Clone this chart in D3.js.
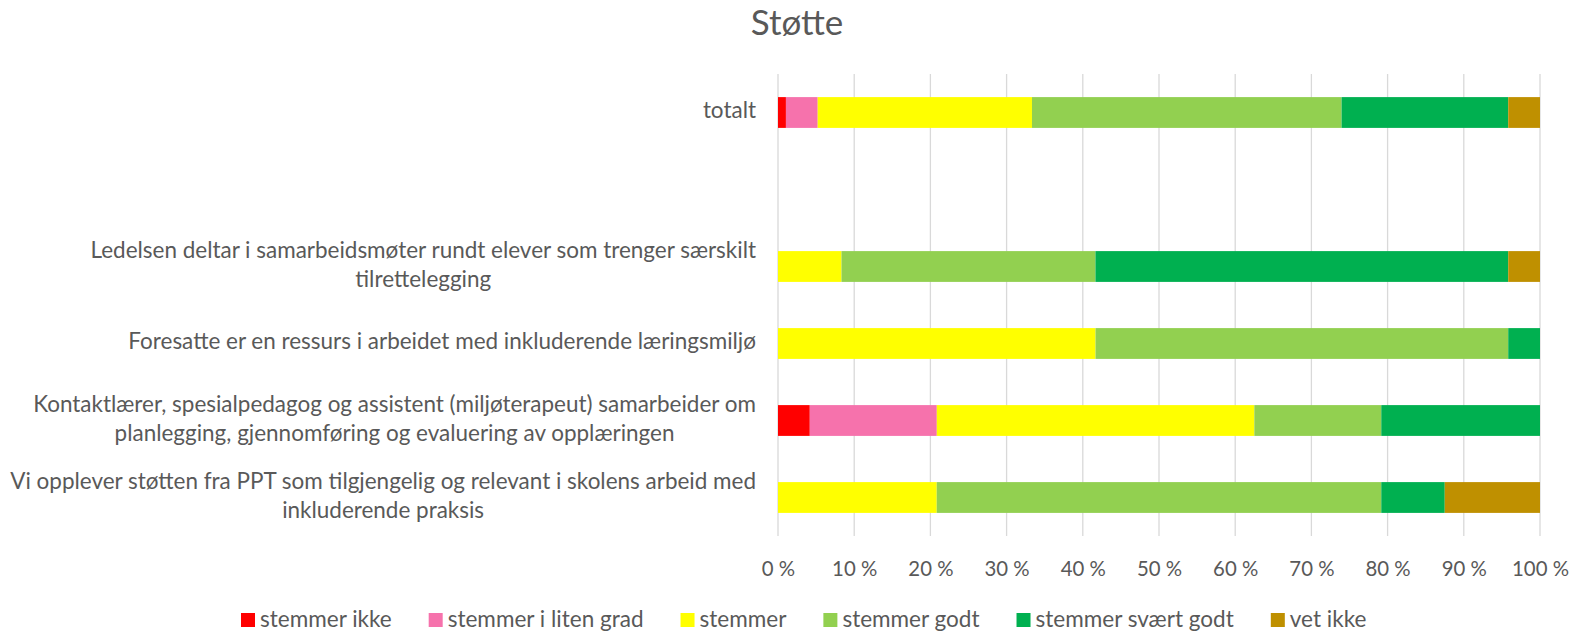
<!DOCTYPE html>
<html>
<head>
<meta charset="utf-8">
<script src="https://cdn.jsdelivr.net/npm/d3@7"></script>
<style>
  html, body { margin: 0; padding: 0; background: #fff; }
  svg { display: block; }
  text { font-family: Lato, "Open Sans", sans-serif; fill: #595959; }
</style>
</head>
<body>
<svg id="chart" width="1581" height="634"></svg>
<script>
// ---- data ----
const title = "Støtte";
const categories = ["totalt", "blank", "ledelsen", "foresatte", "kontakt", "ppt"];
const categoryLabels = [
  ["totalt"],
  [],
  ["Ledelsen deltar i samarbeidsmøter rundt elever som trenger særskilt", "tilrettelegging"],
  ["Foresatte er en ressurs i arbeidet med inkluderende læringsmiljø"],
  ["Kontaktlærer, spesialpedagog og assistent (miljøterapeut) samarbeider om", "planlegging, gjennomføring og evaluering av opplæringen"],
  ["Vi opplever støtten fra PPT som tilgjengelig og relevant i skolens arbeid med", "inkluderende praksis"]
];
const seriesNames = ["stemmer ikke", "stemmer i liten grad", "stemmer", "stemmer godt", "stemmer svært godt", "vet ikke"];
const stemmerIkke      = [1.04, 0, 0,     0,     4.17,  0];
const stemmerLitenGrad = [4.17, 0, 0,     0,     16.67, 0];
const stemmer          = [28.12, 0, 8.33, 41.67, 41.67, 20.83];
const stemmerGodt      = [40.63, 0, 33.33, 54.16, 16.66, 58.34];
const stemmerSvaertGodt= [21.87, 0, 54.17, 4.17, 20.83, 8.33];
const vetIkke          = [4.17, 0, 4.17,  0,     0,     12.5];
const tickValues = [0, 10, 20, 30, 40, 50, 60, 70, 80, 90, 100];
const seriesColors = ["#FF0000", "#F672AC", "#FFFF00", "#92D050", "#00B050", "#BF9000"];

const seriesData = [stemmerIkke, stemmerLitenGrad, stemmer, stemmerGodt, stemmerSvaertGodt, vetIkke];

// ---- layout ----
const svg = d3.select("#chart");
const x = d3.scaleLinear().domain([0, 100]).range([778, 1540]);
const y = d3.scaleBand().domain(categories).range([74, 536]).paddingInner(0.6).paddingOuter(0.3);

// font size fitting helper
function fitSize(sample, target) {
  const t = svg.append("text").attr("font-size", 100).text(sample);
  const w = t.node().getComputedTextLength();
  t.remove();
  return 100 * target / w;
}
const labelSize = fitSize("Foresatte er en ressurs i arbeidet med inkluderende læringsmiljø", 628);
const legendSize = fitSize("stemmer i liten grad", 196);
const tickSize = fitSize("100 %", 57);
const titleSize = 35;

// gridlines
svg.append("g")
  .selectAll("line")
  .data(tickValues)
  .join("line")
  .attr("x1", d => x(d)).attr("x2", d => x(d))
  .attr("y1", 74).attr("y2", 536)
  .attr("stroke", "#d9d9d9").attr("stroke-width", 1.3);

// stacked bars
const rows = categories.map((c, i) => {
  const o = { cat: c };
  seriesNames.forEach((s, j) => o[s] = seriesData[j][i]);
  return o;
}).filter(r => r.cat !== "blank");
const stack = d3.stack().keys(seriesNames)(rows);
svg.append("g")
  .selectAll("g")
  .data(stack)
  .join("g")
  .attr("fill", (d, i) => seriesColors[i])
  .selectAll("rect")
  .data(d => d.filter(p => p[1] - p[0] > 0))
  .join("rect")
  .attr("x", d => x(d[0]))
  .attr("width", d => x(d[1]) - x(d[0]))
  .attr("y", d => y(d.data.cat))
  .attr("height", y.bandwidth());

// category labels
const lineH = 29.3;
categories.forEach((c, i) => {
  const lines = categoryLabels[i];
  if (!lines.length) return;
  const cy = y(c) + y.bandwidth() / 2;
  const base0 = lines.length === 1 ? cy + 5 : cy - 8.5;
  const t = svg.append("text")
    .attr("text-anchor", "middle")
    .attr("font-size", labelSize);
  lines.forEach((ln, k) => {
    t.append("tspan").attr("y", base0 + k * lineH).text(ln);
  });
  let maxW = 0;
  t.selectAll("tspan").each(function () { maxW = Math.max(maxW, this.getComputedTextLength()); });
  t.selectAll("tspan").attr("x", 756 - maxW / 2);
});

// x axis tick labels
const axis = d3.axisBottom(x).tickValues(tickValues).tickSize(0).tickPadding(0).tickFormat(d => d + " %");
const ax = svg.append("g").attr("transform", "translate(0,560)").call(axis);
ax.select(".domain").remove();
ax.selectAll("text").attr("font-size", tickSize).attr("font-family", "Lato, 'Open Sans', sans-serif")
  .attr("fill", "#595959").attr("dy", null).attr("y", 16);

// title
svg.append("text").attr("x", 797).attr("y", 35).attr("text-anchor", "middle")
  .attr("font-size", titleSize).text(title);

// legend
let lx = 241;
const lg = svg.append("g");
seriesNames.forEach((s, i) => {
  lg.append("rect").attr("x", lx).attr("y", 613).attr("width", 14).attr("height", 14).attr("fill", seriesColors[i]);
  const t = lg.append("text").attr("x", lx + 19).attr("y", 627).attr("font-size", legendSize).text(s);
  lx = lx + 19 + t.node().getComputedTextLength() + 37;
});
</script>
</body>
</html>
